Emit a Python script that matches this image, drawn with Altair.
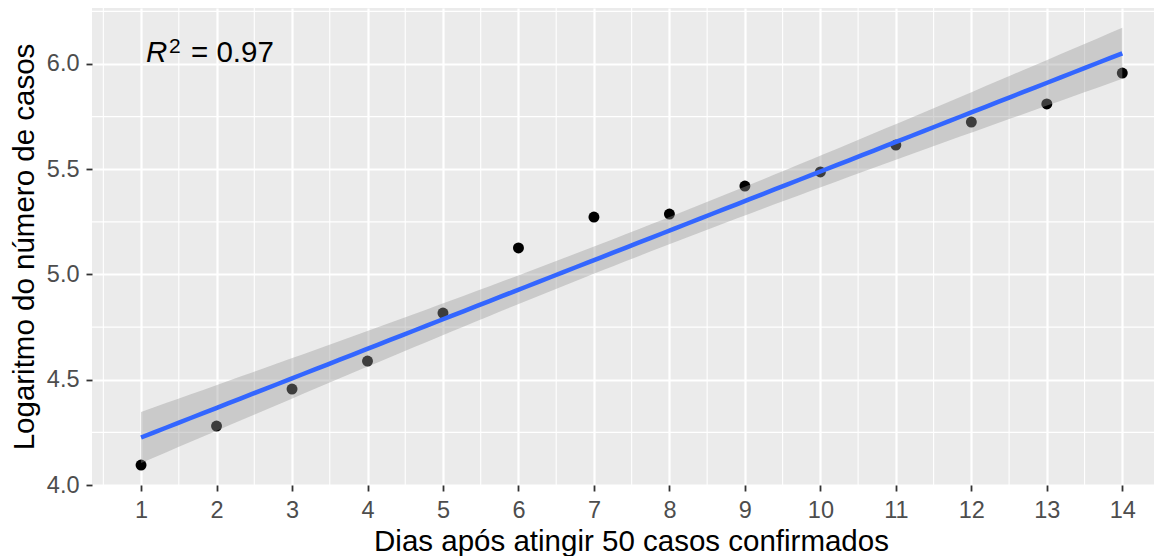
import altair as alt
import numpy as np
import pandas as pd

# ---- data ----
dias = [1, 2, 3, 4, 5, 6, 7, 8, 9, 10, 11, 12, 13, 14]
log_casos = [4.095, 4.280, 4.456, 4.589, 4.817, 5.126, 5.273,
             5.287, 5.420, 5.487, 5.615, 5.724, 5.810, 5.957]
x_ticks = [1, 2, 3, 4, 5, 6, 7, 8, 9, 10, 11, 12, 13, 14]
y_ticks = [4.0, 4.5, 5.0, 5.5, 6.0]
x_minor = [0.5, 1.5, 2.5, 3.5, 4.5, 5.5, 6.5, 7.5, 8.5, 9.5, 10.5, 11.5, 12.5, 13.5]
y_minor = [4.25, 4.75, 5.25, 5.75, 6.25]
r2_label = ["R", "2", "= 0.97"]
r2_anchor_x = 1.066
r2_anchor_y = 6.011

# ---- linear fit with 95% confidence band (as geom_smooth(method="lm")) ----
x = np.array(dias, dtype=float)
y = np.array(log_casos, dtype=float)
n = len(x)
b, a = np.polyfit(x, y, 1)
resid = y - (a + b * x)
s = np.sqrt(np.sum(resid ** 2) / (n - 2))
sxx = np.sum((x - x.mean()) ** 2)
t_crit = 2.178813  # t(0.975, df=12)
xs = np.linspace(x.min(), x.max(), 80)
fit = a + b * xs
se = s * np.sqrt(1.0 / n + (xs - x.mean()) ** 2 / sxx)
band = pd.DataFrame({"x": xs, "fit": fit, "lo": fit - t_crit * se, "hi": fit + t_crit * se})

pts = pd.DataFrame({"dia": dias, "log": log_casos})
minor_x = pd.DataFrame({"v": x_minor})
minor_y = pd.DataFrame({"v": y_minor})
ann = pd.DataFrame({"x": [r2_anchor_x], "y": [r2_anchor_y]})

FONT = "Liberation Sans"
xs_scale = alt.Scale(domain=[0.35, 14.42], nice=False, zero=False)
ys_scale = alt.Scale(domain=[4.0, 6.266], nice=False, zero=False)

x_axis = alt.Axis(values=x_ticks, title="Dias após atingir 50 casos confirmados",
                  grid=True, labelPadding=7, format="d",
                  titleX=539, titleY=65, titleBaseline="alphabetic", titleAlign="center")
y_axis = alt.Axis(values=y_ticks, title="Logaritmo do número de casos",
                  grid=True, labelPadding=7, titlePadding=7, format=".1f")

gx = alt.Chart(minor_x).mark_rule(color="white", strokeWidth=1.1).encode(
    x=alt.X("v:Q", scale=xs_scale, axis=x_axis)
)
gy = alt.Chart(minor_y).mark_rule(color="white", strokeWidth=1.1).encode(
    y=alt.Y("v:Q", scale=ys_scale, axis=y_axis)
)

points = alt.Chart(pts).mark_circle(color="black", opacity=1, size=120).encode(
    x=alt.X("dia:Q", scale=xs_scale, axis=x_axis),
    y=alt.Y("log:Q", scale=ys_scale, axis=y_axis),
)

area = alt.Chart(band).mark_area(color="#999999", opacity=0.4).encode(
    x=alt.X("x:Q", scale=xs_scale, axis=x_axis),
    y=alt.Y("lo:Q", scale=ys_scale, axis=y_axis),
    y2="hi:Q",
)

line = alt.Chart(band).mark_line(color="#3366FF", strokeWidth=4.5).encode(
    x=alt.X("x:Q", scale=xs_scale, axis=x_axis),
    y=alt.Y("fit:Q", scale=ys_scale, axis=y_axis),
)

def ann_text(label, size, dx, dy, style):
    return alt.Chart(ann).mark_text(
        text=label, font=FONT, fontSize=size, fontStyle=style, color="black",
        align="left", baseline="alphabetic", dx=dx, dy=dy
    ).encode(
        x=alt.X("x:Q", scale=xs_scale, axis=x_axis),
        y=alt.Y("y:Q", scale=ys_scale, axis=y_axis),
    )

t_r = ann_text(r2_label[0], 29.5, 0, 0, "italic")
t_2 = ann_text(r2_label[1], 21, 23, -9, "normal")
t_eq = ann_text(r2_label[2], 29.5, 45, 0, "normal")

chart = alt.layer(gx, gy, points, area, line, t_r, t_2, t_eq).properties(
    width=1062, height=477,
    autosize=alt.AutoSizeParams(type="none"),
    padding={"left": 84, "top": 0, "right": 0, "bottom": 79},
).configure_view(
    fill="#EBEBEB", strokeWidth=0
).configure_axis(
    domain=False,
    gridColor="white", gridWidth=2.2,
    tickColor="#333333", tickWidth=1.8, tickSize=6,
    labelFont=FONT, labelFontSize=23.5, labelColor="#4D4D4D",
    titleFont=FONT, titleFontSize=29.5, titleColor="black", titleFontWeight="normal",
)

chart.save("out.html", embed_options={"renderer": "svg", "actions": False})
